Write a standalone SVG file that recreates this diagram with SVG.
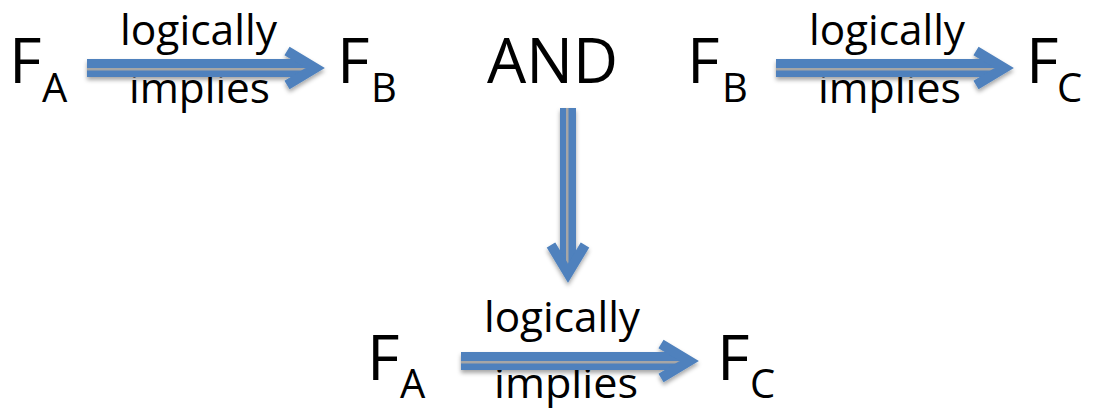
<svg xmlns="http://www.w3.org/2000/svg" xmlns:xlink="http://www.w3.org/1999/xlink" width="1095" height="408" viewBox="0 0 1095 408">
  <style>
    .t { font-family: "Open Sans", "Noto Sans", sans-serif; fill: #000; }
    .big { font-size: 63px; }
    .sub { font-size: 40px; }
    .lbl { font-size: 42px; }
    .shaft { fill: #4F81BD; }
    .mid { fill: #A6A6A6; }
    .head { fill: none; stroke: #4F81BD; stroke-width: 10; stroke-linejoin: miter; stroke-linecap: butt; }
  </style>
  <defs>
    <filter id="sh" x="-10%" y="-50%" width="120%" height="200%">
      <feDropShadow dx="0" dy="3" stdDeviation="2" flood-color="#000" flood-opacity="0.35"/>
    </filter>
    <g id="harrow">
      <rect class="shaft" x="-238" y="-9" width="221" height="18"/>
      <rect class="mid" x="-238" y="0" width="224" height="2.5"/>
      <path class="head" d="M-38,-17 L-9.8,0 L-38,17"/>
    </g>
  </defs>
  <rect width="1095" height="408" fill="#fff"/>

  <g id="fa-top">
    <text class="t big" x="9" y="83">F</text>
    <text class="t sub" x="42" y="102">A</text>
  </g>
  <g id="fb-left">
    <text class="t big" x="337" y="83">F</text>
    <text class="t sub" x="371" y="102">B</text>
  </g>
  <g id="and">
    <text class="t big" x="487" y="83" textLength="131" lengthAdjust="spacingAndGlyphs">AND</text>
  </g>
  <g id="fb-right">
    <text class="t big" x="687" y="83">F</text>
    <text class="t sub" x="722" y="102">B</text>
  </g>
  <g id="fc-top">
    <text class="t big" x="1026" y="83">F</text>
    <text class="t sub" x="1057" y="102">C</text>
  </g>
  <g id="fa-bottom">
    <text class="t big" x="367" y="380">F</text>
    <text class="t sub" x="400" y="398">A</text>
  </g>
  <g id="fc-bottom">
    <text class="t big" x="717" y="380">F</text>
    <text class="t sub" x="750" y="398">C</text>
  </g>

  <g id="labels">
    <text class="t lbl" x="120" y="45" textLength="157" lengthAdjust="spacingAndGlyphs">logically</text>
    <text class="t lbl" x="129" y="103" textLength="141" lengthAdjust="spacingAndGlyphs">implies</text>
    <text class="t lbl" x="809" y="45" textLength="156" lengthAdjust="spacingAndGlyphs">logically</text>
    <text class="t lbl" x="818" y="103" textLength="143" lengthAdjust="spacingAndGlyphs">implies</text>
    <text class="t lbl" x="484" y="332" textLength="156" lengthAdjust="spacingAndGlyphs">logically</text>
    <text class="t lbl" x="494" y="398" textLength="144" lengthAdjust="spacingAndGlyphs">implies</text>
  </g>

  <g id="connectors" filter="url(#sh)">
    <use xlink:href="#harrow" transform="translate(325,68)"/>
    <use xlink:href="#harrow" transform="translate(1014,68)"/>
    <use xlink:href="#harrow" transform="translate(699,361)"/>
    <g transform="translate(568,283) rotate(90)">
      <rect class="shaft" x="-175" y="-8" width="158" height="16"/>
      <rect class="mid" x="-175" y="-0.5" width="161" height="2.5"/>
      <path class="head" d="M-38,-17 L-9.8,0 L-38,17"/>
    </g>
  </g>
</svg>
